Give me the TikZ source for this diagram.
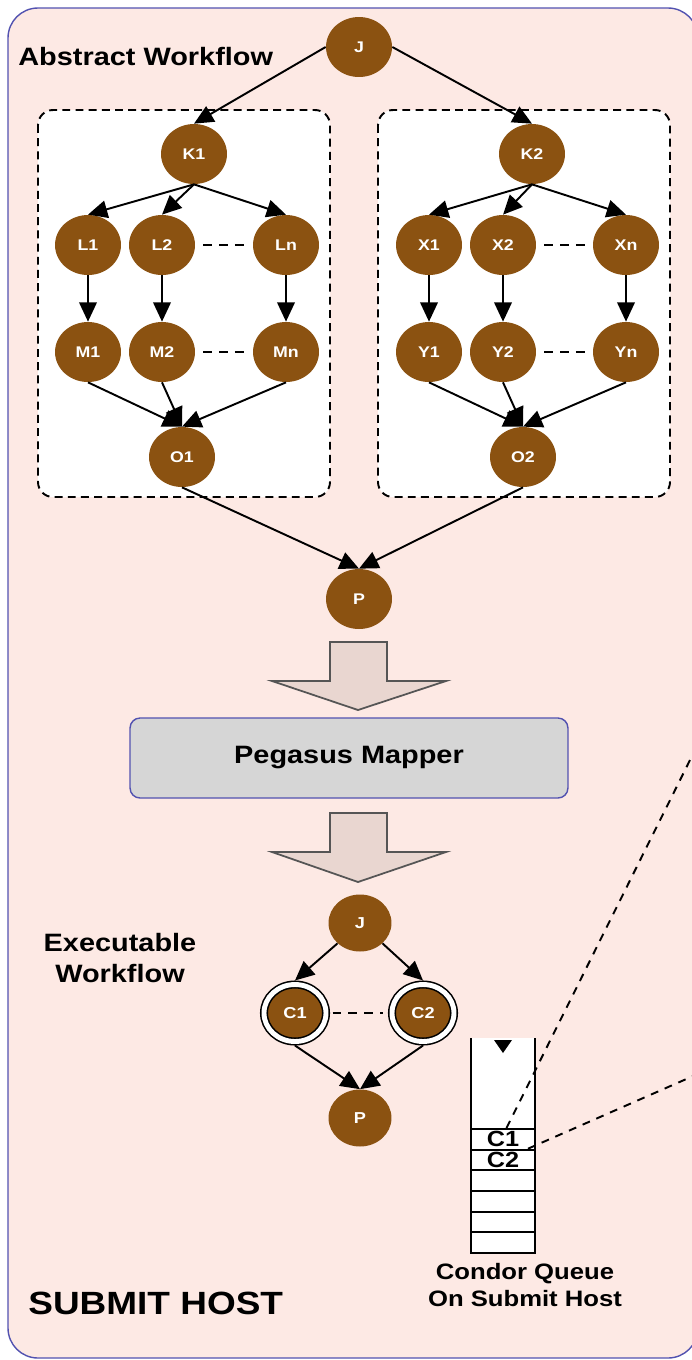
\documentclass[tikz,border=0pt]{standalone}
\usepackage{fontspec}
\setmainfont{Liberation Sans}[FakeStretch=1.15]
\usetikzlibrary{positioning, arrows.meta, shapes.geometric, backgrounds}
\definecolor{host_bg}{HTML}{FDE9E4}
\definecolor{host_line}{HTML}{5252B0}
\definecolor{job_fill}{HTML}{8B5211}
\definecolor{mapper_fill}{HTML}{D6D6D6}
\definecolor{stage_fill}{HTML}{E9D6D0}
\definecolor{stage_line}{HTML}{555555}

\begin{document}
\begin{tikzpicture}[
    x=0.02cm, y=-0.02cm,
    % Stili per i job e le dipendenze
    job_node/.style = {
        ellipse,
        fill=job_fill,
        text=white,
        font=\bfseries\fontsize{8.8}{10}\selectfont,
        minimum width=1.32cm,
        minimum height=1.2cm,
        inner sep=0
    },
    exec_node/.style = {
        job_node,
        minimum width=1.26cm,
        minimum height=1.14cm,
        font=\bfseries\fontsize{9}{10}\selectfont
    },
    ring_node/.style = {
        exec_node,
        minimum width=1.24cm,
        draw=black,
        line width=0.9pt,
        double=white,
        double distance=2.8pt,
        outer sep=2.3pt
    },
    dep/.style = {line width=1.1pt, -{Triangle[length=11pt, width=10pt]}},
    gap_line/.style = {line width=1.1pt, dash pattern=on 5pt off 4pt},
    group_box/.style = {draw, fill=white, line width=1.1pt, dash pattern=on 4.5pt off 3pt, rounded corners=0.3cm},
    queue_cell/.style = {
        draw,
        fill=white,
        line width=1.1pt,
        minimum width=1.28cm,
        minimum height=0.413cm,
        inner sep=0,
        font=\bfseries\fontsize{12.5}{13}\selectfont
    },
    queue_link/.style = {line width=1.1pt, dash pattern=on 4.5pt off 4pt},
    stage_arrow/.style = {fill=stage_fill, draw=stage_line, line width=1pt},
    heading_text/.style = {font=\bfseries\fontsize{14.3}{18}\selectfont, inner sep=0, align=center}
]

% 1. Sfondo dell'host
\clip (0,0) rectangle (692,1360);
\draw[host_line, fill=host_bg, line width=0.8pt, rounded corners=0.6cm] (8,8) rectangle (698,1358);

% 2. Riquadri tratteggiati dei sotto-workflow
\draw[group_box] (38,110) rectangle (330,497);
\draw[group_box] (378,110) rectangle (670,497);

% 3. Workflow astratto
\node[heading_text, anchor=base west] (abstract_lbl) at (18,65) {Abstract Workflow};
\node[job_node] (J) at (359,47) {J};
\node[job_node] (K1) at (194,154) {K1};
\node[job_node] (K2) at (532,154) {K2};

% Ramo sinistro
\node[job_node] (L1) at (88,245) {L1};
\node[job_node] (L2) at (162,245) {L2};
\node[job_node] (Ln) at (286,245) {Ln};
\node[job_node] (M1) at (88,352) {M1};
\node[job_node] (M2) at (162,352) {M2};
\node[job_node] (Mn) at (286,352) {Mn};
\node[job_node] (O1) at (182,457) {O1};

% Ramo destro
\node[job_node] (X1) at (429,245) {X1};
\node[job_node] (X2) at (503,245) {X2};
\node[job_node] (Xn) at (626,245) {Xn};
\node[job_node] (Y1) at (429,352) {Y1};
\node[job_node] (Y2) at (503,352) {Y2};
\node[job_node] (Yn) at (626,352) {Yn};
\node[job_node] (O2) at (523,457) {O2};

\node[job_node] (P) at (359,599) {P};

% Dipendenze
\draw[dep] (J.west) -- (K1.north);
\draw[dep] (J.east) -- (K2.north);
\draw[dep] (K1.south) -- (L1.north);
\draw[dep] (K1.south) -- (L2.north);
\draw[dep] (K1.south) -- (Ln.north);
\draw[dep] (L1) -- (M1);
\draw[dep] (L2) -- (M2);
\draw[dep] (Ln) -- (Mn);
\draw[dep] (M1.south) -- (O1.north);
\draw[dep] (M2.south) -- (O1.north);
\draw[dep] (Mn.south) -- (O1.north);
\draw[dep] (K2.south) -- (X1.north);
\draw[dep] (K2.south) -- (X2.north);
\draw[dep] (K2.south) -- (Xn.north);
\draw[dep] (X1) -- (Y1);
\draw[dep] (X2) -- (Y2);
\draw[dep] (Xn) -- (Yn);
\draw[dep] (Y1.south) -- (O2.north);
\draw[dep] (Y2.south) -- (O2.north);
\draw[dep] (Yn.south) -- (O2.north);
\draw[dep] (O1.south) -- (P.north);
\draw[dep] (O2.south) -- (P.north);

% Puntini tra i job paralleli
\draw[gap_line, shorten <=4.5pt, shorten >=1.7pt] (L2.east) -- (Ln.west);
\draw[gap_line, shorten <=4.5pt, shorten >=1.7pt] (M2.east) -- (Mn.west);
\draw[gap_line, shorten <=4.5pt, shorten >=1.7pt] (X2.east) -- (Xn.west);
\draw[gap_line, shorten <=4.5pt, shorten >=1.7pt] (Y2.east) -- (Yn.west);

% 4. Frecce di passaggio e mapper
\draw[stage_arrow] (330,642) -- (387,642) -- (387,681) -- (446,681) -- (358,710) -- (272,681) -- (330,681) -- cycle;
\node[heading_text, draw=host_line, fill=mapper_fill, line width=0.8pt, rounded corners=0.2cm,
      minimum width=8.76cm, minimum height=1.6cm] (mapper) at (349,758) {Pegasus Mapper};
\draw[stage_arrow] (330,813) -- (387,813) -- (387,852) -- (446,852) -- (358,882) -- (272,852) -- (330,852) -- cycle;

% 5. Workflow eseguibile
\node[heading_text] (exec_lbl) at (120,958) {Executable\\Workflow};
\node[exec_node] (Je) at (360,923) {J};
\node[ring_node] (C1) at (295,1013) {C1};
\node[ring_node] (C2) at (423,1013) {C2};
\node[exec_node] (Pe) at (360,1118) {P};
\draw[dep] (Je.south west) -- (C1.north);
\draw[dep] (Je.south east) -- (C2.north);
\draw[dep] (C1.south) -- (Pe.north);
\draw[dep] (C2.south) -- (Pe.north);
\draw[gap_line, shorten <=1.5pt, shorten >=3pt] (C1.east) -- (C2.west);

% 6. Coda di Condor
\fill[white] (471,1038) rectangle (535,1129);
\draw[line width=1.1pt] (471,1038) -- (471,1129) (535,1038) -- (535,1129);
\fill (494,1040) -- (512,1040) -- (503,1053) -- cycle;
\node[queue_cell] (cell1) at (503,1139.3) {C1};
\node[queue_cell] (cell2) at (503,1160) {C2};
\node[queue_cell] (cell3) at (503,1180.7) {};
\node[queue_cell] (cell4) at (503,1201.3) {};
\node[queue_cell] (cell5) at (503,1222) {};
\node[queue_cell] (cell6) at (503,1242.7) {};
\node[heading_text, font=\bfseries\fontsize{12.7}{15.3}\selectfont] (queue_lbl) at (525,1285) {Condor Queue\\On Submit Host};

% Collegamenti verso l'esterno
\coordinate (far_a) at (700,740);
\coordinate (far_b) at (700,1073);
\draw[queue_link] ([xshift=2pt]cell1.north) -- (far_a);
\draw[queue_link] ([xshift=-0.16cm]cell2.north east) -- (far_b);

% Etichetta dell'host
\node[heading_text, font=\bfseries\fontsize{18.3}{22}\selectfont, anchor=base west] (host_lbl) at (28,1314) {SUBMIT HOST};

\end{tikzpicture}
\end{document}
